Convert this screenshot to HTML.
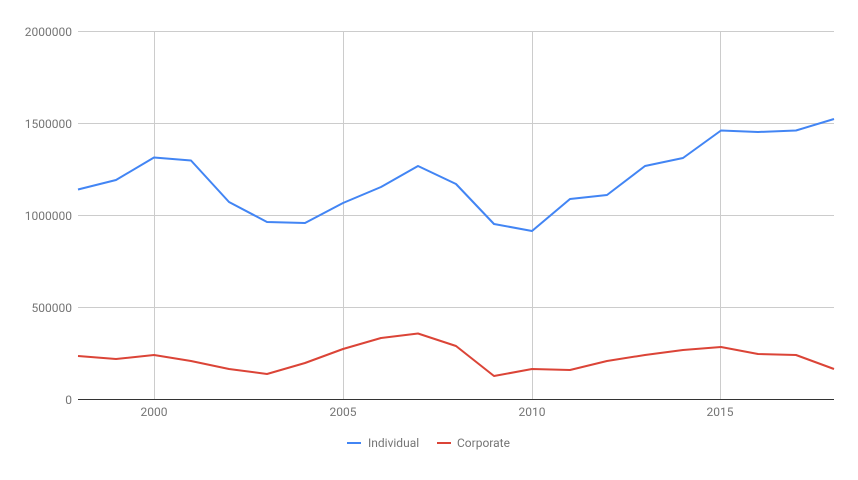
<!DOCTYPE html>
<html><head><meta charset="utf-8"><style>
html,body{margin:0;padding:0;background:#fff;}
text{font-family:"Roboto","Liberation Sans",sans-serif;}
</style></head><body>
<svg width="858" height="475" xmlns="http://www.w3.org/2000/svg">
<g stroke="#cccccc" stroke-width="1">
<line x1="78" y1="31.5" x2="834" y2="31.5"/>
<line x1="78" y1="123.5" x2="834" y2="123.5"/>
<line x1="78" y1="215.5" x2="834" y2="215.5"/>
<line x1="78" y1="307.5" x2="834" y2="307.5"/>
<line x1="154.5" y1="31" x2="154.5" y2="399"/>
<line x1="343.5" y1="31" x2="343.5" y2="399"/>
<line x1="532.5" y1="31" x2="532.5" y2="399"/>
<line x1="720.5" y1="31" x2="720.5" y2="399"/>
</g>
<line x1="78" y1="399.5" x2="834" y2="399.5" stroke="#333" stroke-width="1"/>
<g font-size="12" fill="#757575" text-anchor="end">
<text x="72" y="36">2000000</text>
<text x="72" y="128">1500000</text>
<text x="72" y="220">1000000</text>
<text x="72" y="312">500000</text>
<text x="72" y="404">0</text>
</g>
<g font-size="12" fill="#757575" text-anchor="middle">
<text x="154" y="416">2000</text>
<text x="343" y="416">2005</text>
<text x="532" y="416">2010</text>
<text x="720" y="416">2015</text>
</g>
<polyline fill="none" stroke="#4285f4" stroke-width="2" stroke-linejoin="round" points="78,189.5 116,180 154,157.5 191,160.5 229,202 267,222 305,223 343,203 381,187 418,166 456,184 494,224 532,231 570,199 607,195 645,166 683,158 721,130.5 758,132 796,130.5 834,119"/>
<polyline fill="none" stroke="#db4437" stroke-width="2" stroke-linejoin="round" points="78,356 116,359 154,355 191,361 229,369 267,374 305,363 343,349 381,338 418,333.5 456,346 494,376 532,369 570,370 607,361 645,355 683,350 721,347 758,354 796,355 834,369"/>
<line x1="347" y1="443" x2="361" y2="443" stroke="#4285f4" stroke-width="2"/>
<text x="368" y="447" font-size="12" fill="#757575">Individual</text>
<line x1="437" y1="443" x2="451" y2="443" stroke="#db4437" stroke-width="2"/>
<text x="457" y="447" font-size="12" fill="#757575">Corporate</text>
</svg>
</body></html>
